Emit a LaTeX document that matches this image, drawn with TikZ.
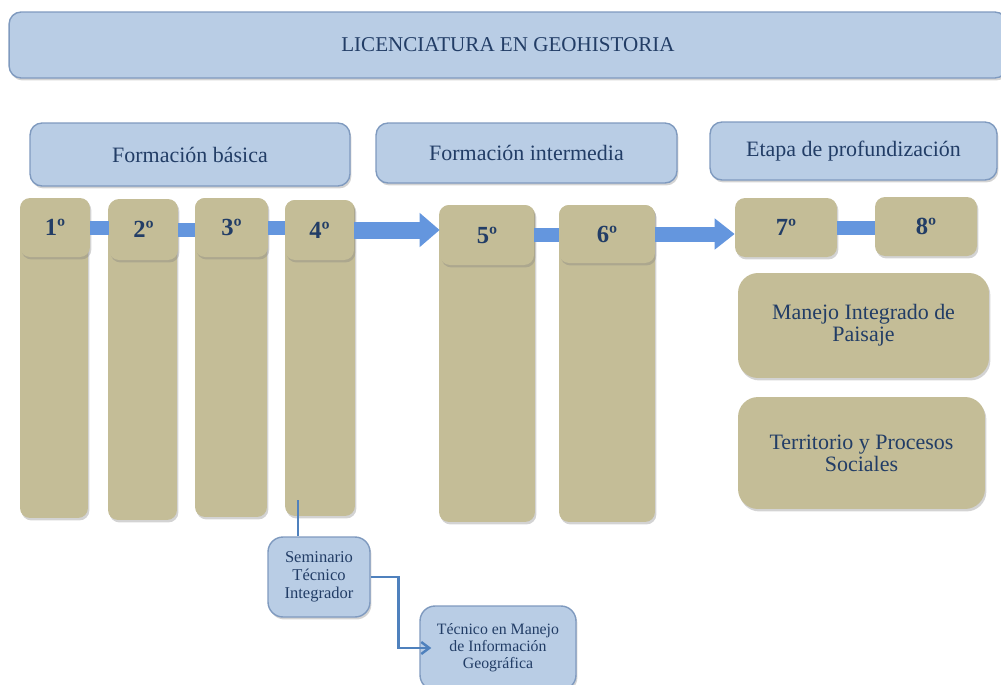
\documentclass[tikz,border=0pt]{standalone}
\usepackage{fontspec}
\setmainfont{Liberation Serif}
\usetikzlibrary{shadows,arrows.meta}

\definecolor{azulcaja}{HTML}{B9CDE5}
\definecolor{azulborde}{HTML}{7F9ABF}
\definecolor{azultexto}{HTML}{223D66}
\definecolor{arena}{HTML}{C4BD97}
\definecolor{azulflecha}{HTML}{6496DE}
\definecolor{azullinea}{HTML}{4F81BD}

\begin{document}
\begin{tikzpicture}[x=0.02cm, y=-0.02cm,
  sombra/.style={drop shadow={opacity=0.35, shadow xshift=0.8pt, shadow yshift=-1.4pt}},
  caja/.style={draw=azulborde, line width=0.8pt, fill=azulcaja, rounded corners=0.24cm,
    text=azultexto, align=center, inner sep=0pt, sombra},
  semestre/.style={fill=arena, rounded corners=0.2cm, text=azultexto, inner sep=0pt,
    font=\bfseries\fontsize{14}{16}\selectfont, sombra},
  columna/.style={fill=arena, rounded corners=0.2cm, inner sep=0pt, sombra},
  ciclo/.style={fill=arena, rounded corners=0.4cm, text=azultexto, align=center,
    inner sep=0pt, font=\fontsize{12.5}{12.5}\selectfont, sombra},
  barra/.style={draw=azulflecha, line width=0.28cm},
  enlace/.style={draw=azullinea, line width=1.4pt}]
\useasboundingbox (0,0) rectangle (1001,684);

% Titulo
\node[caja, minimum width=19.96cm, minimum height=1.32cm, font=\fontsize{12}{14}\selectfont]
  (titulo) at (508,45) {LICENCIATURA EN GEOHISTORIA};

% Etapas
\node[caja, minimum width=6.4cm, minimum height=1.26cm, font=\fontsize{12.5}{14}\selectfont]
  (basica) at (190,154.5) {Formación básica};
\node[caja, minimum width=6.02cm, minimum height=1.2cm, font=\fontsize{12.5}{14}\selectfont]
  (intermedia) at (526.5,153) {Formación intermedia};
\node[caja, minimum width=5.74cm, minimum height=1.16cm, font=\fontsize{12.5}{14}\selectfont]
  (profundizacion) at (853.5,151) {Etapa de profundización};

% Columnas de los semestres
\foreach \i/\x/\y/\w/\h in {1/54/359/1.36/6.36, 2/142.5/360/1.38/6.4, 3/231/357.5/1.44/6.38,
    4/320/358/1.4/6.32, 5/487/363.5/1.92/6.34, 6/607/363.5/1.92/6.34}
  \node[columna, minimum width=\w cm, minimum height=\h cm] (c\i) at (\x,\y) {};

% Semestres
\foreach \i/\x/\y/\w/\h in {1/55/227.5/1.4/1.18, 2/143.5/229.5/1.38/1.22, 3/231.5/227.5/1.46/1.18,
    4/319.5/230/1.38/1.2, 5/487/235/1.88/1.2, 6/607/234/1.92/1.16,
    7/786/227.5/2.04/1.18, 8/926/226.5/2.04/1.18}
  \node[semestre, minimum width=\w cm, minimum height=\h cm] (s\i) at (\x,\y) {\i º};

% Flechas entre semestres
\draw[barra] (s1.east) -- (s1.east -| s2.west);
\draw[barra] (s2.east) -- (s2.east -| s3.west);
\draw[barra] (s3.east) -- (s3.east -| s4.west);
\draw[barra, line width=0.34cm, -{Triangle[length=0.4cm, width=0.66cm]}] (s4.east) -- (s4.east -| s5.west);
\draw[barra] (s5.east) -- (s5.east -| s6.west);
\draw[barra, line width=0.3cm, -{Triangle[length=0.4cm, width=0.6cm]}] (s6.east) -- (s6.east -| s7.west);
\draw[barra] (s7.east) -- (s7.east -| s8.west);

% Ciclos de profundizacion
\node[ciclo, minimum width=5.02cm, minimum height=2.1cm] (paisaje) at (863.5,325.5)
  {Manejo Integrado de\\Paisaje};
\node[ciclo, minimum width=4.94cm, minimum height=2.24cm] (territorio) at (861.5,453)
  {Territorio y Procesos\\Sociales};

% Salidas tecnicas
\node[caja, rounded corners=0.3cm, minimum width=2.04cm, minimum height=1.6cm,
  font=\fontsize{9.4}{10.4}\selectfont] (seminario) at (319,577) {Seminario\\Técnico\\Integrador};
\node[caja, rounded corners=0.3cm, minimum width=3.12cm, minimum height=1.68cm,
  font=\fontsize{9}{9.6}\selectfont] (tecnico) at (498,648) {Técnico en Manejo\\de Información\\Geográfica};

\coordinate (pie4) at (298,500);
\draw[enlace] (pie4) -- (pie4 |- seminario.north);
\draw[enlace, -{Straight Barb[length=0.16cm, width=0.24cm]}, shorten >=-0.24cm]
  (seminario.east) -- ++(28,0) |- (tecnico.west);
\end{tikzpicture}
\end{document}
